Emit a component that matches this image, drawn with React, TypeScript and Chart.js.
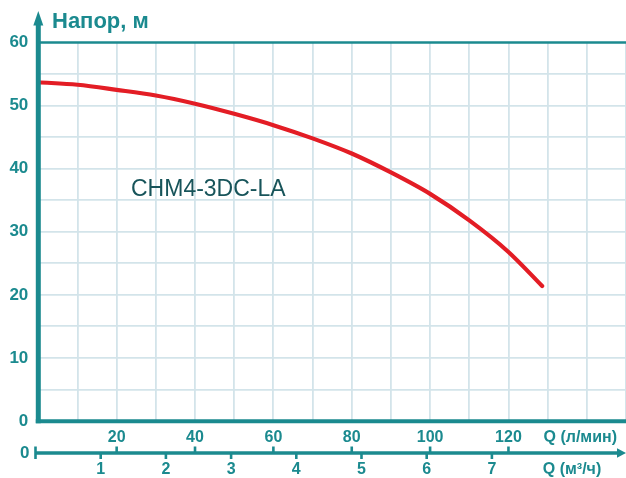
import React, { useEffect, useRef } from 'react';
import { Chart, registerables } from 'chart.js';

Chart.register(...registerables);

// ---- data ----
const flowLpm = [0, 10, 20, 30, 40, 50, 60, 70, 80, 90, 100, 110, 120, 128.6];
const headM = [53.7, 53.3, 52.5, 51.6, 50.3, 48.7, 46.9, 44.8, 42.4, 39.4, 36.0, 31.8, 26.8, 21.4];
const yTickValues = [0, 10, 20, 30, 40, 50, 60];
const lpmTickLabels = [20, 40, 60, 80, 100, 120];
const m3hTickLabels = [1, 2, 3, 4, 5, 6, 7];
const yTitle = 'Напор, м';
const lpmTitle = 'Q (л/мин)';
const m3hTitle = 'Q (м³/ч)';
const modelName = 'CHM4-3DC-LA';

const TEAL = '#1b8a8f';
const GRID = '#d3e4ea';
const RED = '#e31d25';
const DARK = '#17545a';
const FONT = '"Liberation Sans", Arial, sans-serif';

const decorPlugin = {
  id: 'decor',
  afterDatasetsDraw(chart: any) {
    const { ctx, chartArea, scales } = chart;
    const xs = scales.x;
    const x2 = scales.x2;
    const { left, right, top, bottom } = chartArea;
    ctx.save();
    ctx.strokeStyle = TEAL;
    ctx.fillStyle = TEAL;
    ctx.lineCap = 'butt';

    // top line (60)
    ctx.lineWidth = 2.7;
    ctx.beginPath();
    ctx.moveTo(left, top);
    ctx.lineTo(right, top);
    ctx.stroke();

    // bottom border (0)
    ctx.lineWidth = 4;
    ctx.beginPath();
    ctx.moveTo(left - 2.5, bottom + 0.3);
    ctx.lineTo(right, bottom + 0.3);
    ctx.stroke();

    // left axis with arrow
    ctx.lineWidth = 5;
    ctx.beginPath();
    ctx.moveTo(left, bottom + 2.3);
    ctx.lineTo(left, 22);
    ctx.stroke();
    ctx.beginPath();
    ctx.moveTo(left - 5, 25.5);
    ctx.lineTo(left + 5, 25.5);
    ctx.lineTo(left, 11);
    ctx.closePath();
    ctx.fill();

    // y title
    ctx.font = `bold 22px ${FONT}`;
    ctx.textAlign = 'left';
    ctx.textBaseline = 'alphabetic';
    ctx.fillText(yTitle, 52, 28);

    // model name
    ctx.fillStyle = DARK;
    ctx.font = `23px ${FONT}`;
    ctx.fillText(modelName, 131, 196);
    ctx.fillStyle = TEAL;

    // lower axis (m3/h)
    const axY = bottom + 32;
    const x2zero = x2.getPixelForValue(0);
    ctx.lineWidth = 3.6;
    ctx.beginPath();
    ctx.moveTo(x2zero, axY);
    ctx.lineTo(right - 7, axY);
    ctx.stroke();
    ctx.beginPath();
    ctx.moveTo(right - 9, axY - 4.8);
    ctx.lineTo(right, axY);
    ctx.lineTo(right - 9, axY + 4.8);
    ctx.closePath();
    ctx.fill();

    ctx.lineWidth = 2.6;
    ctx.beginPath();
    ctx.moveTo(x2zero, axY - 6.5);
    ctx.lineTo(x2zero, axY + 6);
    ctx.stroke();

    // l/min ticks (upward)
    lpmTickLabels.forEach((v) => {
      const px = xs.getPixelForValue(v);
      ctx.beginPath();
      ctx.moveTo(px, axY - 6.5);
      ctx.lineTo(px, axY);
      ctx.stroke();
    });
    // m3/h ticks (downward)
    m3hTickLabels.forEach((v) => {
      const px = x2.getPixelForValue(v);
      ctx.beginPath();
      ctx.moveTo(px, axY);
      ctx.lineTo(px, axY + 6);
      ctx.stroke();
    });

    ctx.font = `bold 16px ${FONT}`;
    ctx.textBaseline = 'middle';
    ctx.textAlign = 'center';
    m3hTickLabels.forEach((v) => {
      ctx.fillText(String(v), x2.getPixelForValue(v), axY + 16.5);
    });
    ctx.fillText(m3hTitle, 572, axY + 16.5);
    ctx.textAlign = 'right';
    ctx.fillText(lpmTitle, 617, bottom + 16.5);
    ctx.font = `bold 17px ${FONT}`;
    ctx.fillText('0', 29.5, axY);

    ctx.restore();
  },
};

export default function App() {
  const ref = useRef<HTMLCanvasElement | null>(null);

  useEffect(() => {
    if (!ref.current) return;
    const chart = new Chart(ref.current, {
      type: 'line',
      data: {
        datasets: [
          {
            data: flowLpm.map((q, i) => ({ x: q, y: headM[i] })),
            borderColor: RED,
            borderWidth: 4.2,
            pointRadius: 0,
            cubicInterpolationMode: 'monotone',
            borderCapStyle: 'round',
            fill: false,
          },
        ],
      },
      options: {
        animation: false,
        responsive: false,
        maintainAspectRatio: false,
        devicePixelRatio: 1,
        layout: { padding: { left: 0, right: 0, top: 42.5, bottom: 0 } },
        plugins: { legend: { display: false }, tooltip: { enabled: false } },
        scales: {
          x: {
            type: 'linear',
            position: 'bottom',
            min: 0,
            max: 150,
            afterFit: (s: any) => {
              s.height = 57;
              s.paddingLeft = 0;
              s.paddingRight = 0;
            },
            border: { display: false },
            grid: {
              color: (c: any) => (c.tick && c.tick.value === 0 ? 'rgba(0,0,0,0)' : GRID),
              lineWidth: 1.8,
              drawTicks: false,
            },
            ticks: {
              stepSize: 10,
              autoSkip: false,
              maxRotation: 0,
              padding: 7,
              color: TEAL,
              font: { family: FONT, size: 16, weight: 'bold' },
              callback: (v: any) => (lpmTickLabels.includes(Number(v)) ? String(v) : ''),
            },
          },
          x2: {
            type: 'linear',
            position: 'bottom',
            display: false,
            min: 0.043,
            max: 9.057,
          },
          y: {
            type: 'linear',
            min: 0,
            max: 60,
            afterFit: (s: any) => {
              s.width = 38.3;
              s.paddingTop = 0;
              s.paddingBottom = 0;
            },
            border: { display: false },
            grid: {
              color: (c: any) =>
                c.tick && (c.tick.value === 0 || c.tick.value === 60) ? 'rgba(0,0,0,0)' : GRID,
              lineWidth: 1.8,
              drawTicks: false,
            },
            ticks: {
              stepSize: 5,
              autoSkip: false,
              padding: 10,
              color: TEAL,
              font: { family: FONT, size: 17, weight: 'bold' },
              callback: (v: any) => (yTickValues.includes(Number(v)) ? String(v) : ''),
            },
          },
        },
      } as any,
      plugins: [decorPlugin],
    });
    return () => chart.destroy();
  }, []);

  return (
    <div style={{ position: 'absolute', left: 0, top: 0, width: 626, height: 478 }}>
      <canvas ref={ref} width={626} height={478} style={{ display: 'block', width: 626, height: 478 }} />
    </div>
  );
}
